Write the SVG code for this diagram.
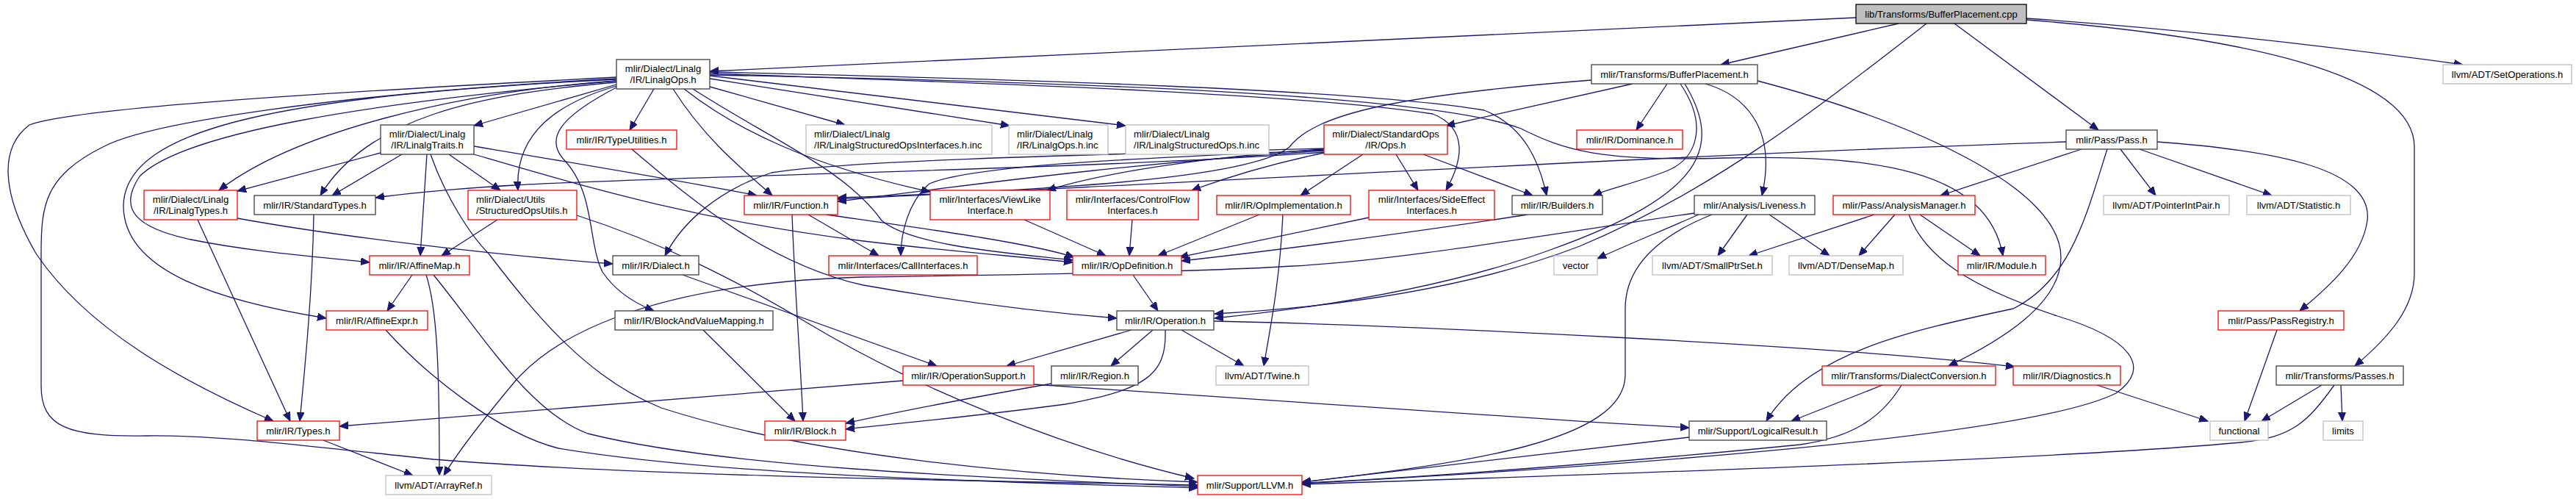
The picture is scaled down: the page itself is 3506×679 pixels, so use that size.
<svg xmlns="http://www.w3.org/2000/svg" width="3506" height="679" viewBox="0 0 3506 679">
<style>
text{font-family:"Liberation Sans",Arial,Helvetica,sans-serif;font-size:13.1px;fill:#000}
.c{text-anchor:middle}
.s{text-anchor:start}
rect{stroke-width:1.3;fill:#fff}
.k{stroke:#404040}
.r{stroke:#ff0000}
.g{stroke:#bfbfbf}
.root{fill:#bfbfbf;stroke:#000}
#edges path{fill:none;stroke:#191970;stroke-width:1.3;marker-end:url(#ah)}
</style>
<defs>
<marker id="ah" markerWidth="13" markerHeight="11" refX="12" refY="5" orient="auto" markerUnits="userSpaceOnUse">
<path d="M0,0 L12,5 L0,10 z" fill="#191970" stroke="#191970" stroke-width="1"/>
</marker>
</defs>
<rect x="0" y="0" width="3506" height="679" style="fill:#fff;stroke:none"/>
<g id="edges">
<path d="M2526,24 L966,97"/>
<path d="M2584,32 L2342,88"/>
<path d="M2622,32 C2470,150 2330,260 2150,335 C1980,400 1780,420 1653,427"/>
<path d="M2660,32 L2856,177"/>
<path d="M2758,25 C2950,38 3150,60 3352,88"/>
<path d="M2758,27 C3050,50 3286,100 3286,200 L3286,372 C3286,420 3250,460 3205,498"/>
<path d="M2222,114 L1968,171"/>
<path d="M2269,114 L2227,177"/>
<path d="M2287,114 C2325,170 2310,215 2270,232 C2230,248 2195,255 2168,266"/>
<path d="M2293,114 C2345,200 2320,265 2110,340 C1960,395 1780,420 1653,433"/>
<path d="M2321,114 C2370,128 2420,170 2398,266"/>
<path d="M2392,110 C2620,170 2805,260 2805,350 C2805,415 2720,465 2652,498"/>
<path d="M2166,109 C1900,130 1790,155 1755,200 C1700,245 1400,260 1140,269"/>
<path d="M839,115 L645,171"/>
<path d="M839,110 C620,125 400,180 298,259"/>
<path d="M839,112 C650,128 500,160 436,266"/>
<path d="M839,117 C760,140 700,180 705,259"/>
<path d="M890,121 L857,177"/>
<path d="M916,121 C960,190 1010,230 1051,266"/>
<path d="M931,121 C1000,175 1100,225 1266,261"/>
<path d="M966,118 L1150,170"/>
<path d="M966,107 L1374,171"/>
<path d="M966,103 L1532,171"/>
<path d="M966,100 C1300,112 1750,125 1950,155 C2000,175 1990,220 1968,259"/>
<path d="M966,98 C1400,108 1850,122 2020,150 C2075,172 2095,220 2105,266"/>
<path d="M966,102 C1500,112 1950,130 2070,175 C2130,205 2180,220 2345,215 C2550,210 2705,230 2726,348"/>
<path d="M943,121 C1050,190 1150,230 1200,300 C1240,335 1380,345 1460,354"/>
<path d="M839,110 C500,140 250,180 190,240 C160,285 185,310 260,326 C350,344 440,350 503,357"/>
<path d="M839,108 C400,130 170,170 168,280 C168,370 300,410 444,433"/>
<path d="M839,119 C760,160 740,190 770,220 C810,265 800,330 820,370 C840,400 870,415 890,423"/>
<path d="M839,105 C400,128 100,148 40,170 C0,200 0,260 49,345 C120,450 250,520 372,573"/>
<path d="M839,107 C450,128 200,168 140,200 C60,240 56,280 56,345 L56,525 C56,580 90,595 200,593 C300,592 400,605 590,625 C900,650 1400,655 1630,660"/>
<path d="M518,208 L323,260"/>
<path d="M547,210 L452,266"/>
<path d="M611,210 L681,259"/>
<path d="M581,210 L572,348"/>
<path d="M645,199 C800,225 950,250 1030,266"/>
<path d="M645,210 C800,255 950,300 1175,328 C1300,343 1400,350 1460,357"/>
<path d="M586,210 C605,265 640,320 665,345 C730,430 800,515 900,555 C1100,620 1400,648 1630,656"/>
<path d="M1802,207 C1500,230 900,240 700,252 C600,258 540,265 511,269"/>
<path d="M1802,205 C1500,225 1300,255 1140,274"/>
<path d="M1802,203 C1650,212 1500,235 1425,259"/>
<path d="M1802,208 C1720,225 1660,245 1622,259"/>
<path d="M1855,210 L1770,266"/>
<path d="M1900,210 L1930,259"/>
<path d="M1937,210 L2086,266"/>
<path d="M1802,202 C1500,210 1150,218 1050,235 C980,258 930,300 905,348"/>
<path d="M1802,204 C1600,214 1330,222 1265,250 C1235,275 1226,320 1226,348"/>
<path d="M2812,193 C2300,210 1700,245 1140,271"/>
<path d="M2833,203 L2641,266"/>
<path d="M2868,203 C2840,290 2820,380 2740,420 C2600,450 2460,480 2404,573"/>
<path d="M2886,203 L2934,266"/>
<path d="M2912,203 L3092,266"/>
<path d="M2936,193 C3100,205 3230,230 3222,300 C3215,350 3170,390 3130,423"/>
<path d="M323,297 C450,320 650,345 834,359"/>
<path d="M269,299 L395,573"/>
<path d="M427,292 C425,400 415,500 408,573"/>
<path d="M677,299 L601,348"/>
<path d="M785,293 C900,330 1000,380 1100,440 C1250,530 1450,610 1625,651"/>
<path d="M860,203 C950,280 1050,360 1175,388 C1300,410 1420,425 1520,433"/>
<path d="M1100,292 L1196,348"/>
<path d="M1078,292 C1082,400 1090,500 1093,573"/>
<path d="M1125,292 C1250,310 1400,330 1462,350"/>
<path d="M1394,299 L1505,348"/>
<path d="M1541,299 L1537,348"/>
<path d="M1714,292 L1576,348"/>
<path d="M1746,292 C1742,380 1730,440 1720,498"/>
<path d="M1863,296 C1750,320 1680,335 1605,350"/>
<path d="M2079,292 C1900,320 1700,345 1608,355"/>
<path d="M2312,292 C2260,315 2210,335 2174,352"/>
<path d="M2378,292 L2338,348"/>
<path d="M2408,292 L2490,348"/>
<path d="M2306,290 C2100,320 1900,355 1760,362 C1600,372 1300,375 1175,377 C900,385 760,450 700,520 C650,580 620,620 604,647"/>
<path d="M2330,292 C2260,320 2212,360 2212,420 L2212,510 C2212,600 2000,630 1772,656"/>
<path d="M2551,292 L2380,348"/>
<path d="M2579,292 L2530,348"/>
<path d="M2613,292 L2695,348"/>
<path d="M2598,292 C2620,350 2680,390 2800,430 C2900,460 2930,500 2880,535 C2750,600 2100,640 1772,658"/>
<path d="M561,374 L527,423"/>
<path d="M580,374 C595,420 598,500 598,647"/>
<path d="M590,374 C660,460 720,560 800,590 C1000,640 1400,652 1630,662"/>
<path d="M929,374 L1275,498"/>
<path d="M1542,374 L1576,423"/>
<path d="M525,449 C580,510 680,590 760,610 C1000,650 1400,656 1630,664"/>
<path d="M957,449 L1082,573"/>
<path d="M1540,449 L1370,498"/>
<path d="M1569,449 L1512,498"/>
<path d="M1586,449 C1588,510 1560,530 1450,550 C1300,570 1200,578 1151,584"/>
<path d="M1608,449 L1693,498"/>
<path d="M1652,437 C1900,442 2500,470 2742,499"/>
<path d="M3099,449 L3055,573"/>
<path d="M1229,518 L462,580"/>
<path d="M1407,523 C1700,545 2000,565 2299,582"/>
<path d="M1431,522 C1300,545 1200,565 1151,576"/>
<path d="M2562,524 L2438,573"/>
<path d="M2588,524 C2560,570 2520,595 2450,605 C2200,630 1900,652 1772,657"/>
<path d="M2854,524 L3005,573"/>
<path d="M3160,524 L3078,573"/>
<path d="M3186,524 L3188,573"/>
<path d="M3177,524 C3140,575 3120,595 3050,602 C2800,625 2200,645 1772,659"/>
<path d="M440,599 L562,647"/>
<path d="M2299,595 L1772,656"/>
</g>
<g id="n_root"><rect class="root" x="2526" y="6" width="232" height="26"/><text class="c" x="2642" y="23.5">lib/Transforms/BufferPlacement.cpp</text></g>
<g id="n_linalgops"><rect class="k" x="839" y="81" width="127" height="40"/><text class="c" x="902.5" y="98">mlir/Dialect/Linalg</text><text class="c" x="902.5" y="113">/IR/LinalgOps.h</text></g>
<g id="n_bufferplacement_h"><rect class="k" x="2166" y="88" width="226" height="26"/><text class="c" x="2279" y="105.5">mlir/Transforms/BufferPlacement.h</text></g>
<g id="n_setoperations"><rect class="g" x="3325" y="88" width="175" height="26"/><text class="c" x="3412.5" y="105.5">llvm/ADT/SetOperations.h</text></g>
<g id="n_linalgtraits"><rect class="k" x="518" y="170" width="127" height="40"/><text class="c" x="581.5" y="187">mlir/Dialect/Linalg</text><text class="c" x="581.5" y="202">/IR/LinalgTraits.h</text></g>
<g id="n_typeutilities"><rect class="r" x="771" y="177" width="150" height="26"/><text class="c" x="846" y="194.5">mlir/IR/TypeUtilities.h</text></g>
<g id="n_soi_inc"><rect class="g" x="1097" y="170" width="253" height="40"/><text class="s" x="1108" y="187">mlir/Dialect/Linalg</text><text class="s" x="1108" y="202">/IR/LinalgStructuredOpsInterfaces.h.inc</text></g>
<g id="n_linalgops_inc"><rect class="g" x="1373" y="170" width="135" height="40"/><text class="s" x="1384" y="187">mlir/Dialect/Linalg</text><text class="s" x="1384" y="202">/IR/LinalgOps.h.inc</text></g>
<g id="n_lso_inc"><rect class="g" x="1532" y="170" width="195" height="40"/><text class="s" x="1543" y="187">mlir/Dialect/Linalg</text><text class="s" x="1543" y="202">/IR/LinalgStructuredOps.h.inc</text></g>
<g id="n_stdops"><rect class="r" x="1802" y="170" width="168" height="40"/><text class="c" x="1886" y="187">mlir/Dialect/StandardOps</text><text class="c" x="1886" y="202">/IR/Ops.h</text></g>
<g id="n_dominance"><rect class="r" x="2146" y="177" width="144" height="26"/><text class="c" x="2218" y="194.5">mlir/IR/Dominance.h</text></g>
<g id="n_pass"><rect class="k" x="2812" y="177" width="124" height="26"/><text class="c" x="2874" y="194.5">mlir/Pass/Pass.h</text></g>
<g id="n_linalgtypes"><rect class="r" x="196" y="259" width="127" height="40"/><text class="c" x="259.5" y="276">mlir/Dialect/Linalg</text><text class="c" x="259.5" y="291">/IR/LinalgTypes.h</text></g>
<g id="n_standardtypes"><rect class="k" x="346" y="266" width="165" height="26"/><text class="c" x="428.5" y="283.5">mlir/IR/StandardTypes.h</text></g>
<g id="n_structuredopsutils"><rect class="r" x="637" y="259" width="148" height="40"/><text class="s" x="648" y="276">mlir/Dialect/Utils</text><text class="s" x="648" y="291">/StructuredOpsUtils.h</text></g>
<g id="n_function"><rect class="r" x="1013" y="266" width="127" height="26"/><text class="c" x="1076.5" y="283.5">mlir/IR/Function.h</text></g>
<g id="n_viewlike"><rect class="r" x="1266" y="259" width="163" height="40"/><text class="c" x="1347.5" y="276">mlir/Interfaces/ViewLike</text><text class="c" x="1347.5" y="291">Interface.h</text></g>
<g id="n_controlflow"><rect class="r" x="1452" y="259" width="179" height="40"/><text class="c" x="1541.5" y="276">mlir/Interfaces/ControlFlow</text><text class="c" x="1541.5" y="291">Interfaces.h</text></g>
<g id="n_opimplementation"><rect class="r" x="1656" y="266" width="182" height="26"/><text class="c" x="1747" y="283.5">mlir/IR/OpImplementation.h</text></g>
<g id="n_sideeffect"><rect class="r" x="1863" y="259" width="171" height="40"/><text class="c" x="1948.5" y="276">mlir/Interfaces/SideEffect</text><text class="c" x="1948.5" y="291">Interfaces.h</text></g>
<g id="n_builders"><rect class="k" x="2058" y="266" width="123" height="26"/><text class="c" x="2119.5" y="283.5">mlir/IR/Builders.h</text></g>
<g id="n_liveness"><rect class="k" x="2306" y="266" width="164" height="26"/><text class="c" x="2388" y="283.5">mlir/Analysis/Liveness.h</text></g>
<g id="n_analysismanager"><rect class="r" x="2495" y="266" width="193" height="26"/><text class="c" x="2591.5" y="283.5">mlir/Pass/AnalysisManager.h</text></g>
<g id="n_pointerintpair"><rect class="g" x="2863" y="266" width="171" height="26"/><text class="c" x="2948.5" y="283.5">llvm/ADT/PointerIntPair.h</text></g>
<g id="n_statistic"><rect class="g" x="3058" y="266" width="141" height="26"/><text class="c" x="3128.5" y="283.5">llvm/ADT/Statistic.h</text></g>
<g id="n_affinemap"><rect class="r" x="503" y="348" width="136" height="26"/><text class="c" x="571" y="365.5">mlir/IR/AffineMap.h</text></g>
<g id="n_dialect"><rect class="k" x="834" y="348" width="117" height="26"/><text class="c" x="892.5" y="365.5">mlir/IR/Dialect.h</text></g>
<g id="n_callinterfaces"><rect class="r" x="1128" y="348" width="202" height="26"/><text class="c" x="1229" y="365.5">mlir/Interfaces/CallInterfaces.h</text></g>
<g id="n_opdefinition"><rect class="r" x="1460" y="348" width="148" height="26"/><text class="c" x="1534" y="365.5">mlir/IR/OpDefinition.h</text></g>
<g id="n_vector"><rect class="g" x="2115" y="348" width="59" height="26"/><text class="c" x="2144.5" y="365.5">vector</text></g>
<g id="n_smallptrset"><rect class="g" x="2249" y="348" width="163" height="26"/><text class="c" x="2330.5" y="365.5">llvm/ADT/SmallPtrSet.h</text></g>
<g id="n_densemap"><rect class="g" x="2435" y="348" width="155" height="26"/><text class="c" x="2512.5" y="365.5">llvm/ADT/DenseMap.h</text></g>
<g id="n_module"><rect class="r" x="2665" y="348" width="119" height="26"/><text class="c" x="2724.5" y="365.5">mlir/IR/Module.h</text></g>
<g id="n_affineexpr"><rect class="r" x="444" y="423" width="138" height="26"/><text class="c" x="513" y="440.5">mlir/IR/AffineExpr.h</text></g>
<g id="n_blockandvaluemapping"><rect class="k" x="837" y="423" width="215" height="26"/><text class="c" x="944.5" y="440.5">mlir/IR/BlockAndValueMapping.h</text></g>
<g id="n_operation"><rect class="k" x="1520" y="423" width="132" height="26"/><text class="c" x="1586" y="440.5">mlir/IR/Operation.h</text></g>
<g id="n_passregistry"><rect class="r" x="3019" y="423" width="171" height="26"/><text class="c" x="3104.5" y="440.5">mlir/Pass/PassRegistry.h</text></g>
<g id="n_operationsupport"><rect class="r" x="1229" y="498" width="178" height="26"/><text class="c" x="1318" y="515.5">mlir/IR/OperationSupport.h</text></g>
<g id="n_region"><rect class="k" x="1431" y="498" width="118" height="26"/><text class="c" x="1490" y="515.5">mlir/IR/Region.h</text></g>
<g id="n_twine"><rect class="g" x="1655" y="498" width="126" height="26"/><text class="c" x="1718" y="515.5">llvm/ADT/Twine.h</text></g>
<g id="n_dialectconversion"><rect class="r" x="2480" y="498" width="236" height="26"/><text class="c" x="2598" y="515.5">mlir/Transforms/DialectConversion.h</text></g>
<g id="n_diagnostics"><rect class="r" x="2740" y="498" width="146" height="26"/><text class="c" x="2813" y="515.5">mlir/IR/Diagnostics.h</text></g>
<g id="n_passes"><rect class="k" x="3098" y="498" width="173" height="26"/><text class="c" x="3184.5" y="515.5">mlir/Transforms/Passes.h</text></g>
<g id="n_types"><rect class="r" x="350" y="573" width="112" height="26"/><text class="c" x="406" y="590.5">mlir/IR/Types.h</text></g>
<g id="n_block"><rect class="r" x="1041" y="573" width="110" height="26"/><text class="c" x="1096" y="590.5">mlir/IR/Block.h</text></g>
<g id="n_logicalresult"><rect class="k" x="2299" y="573" width="187" height="26"/><text class="c" x="2392.5" y="590.5">mlir/Support/LogicalResult.h</text></g>
<g id="n_functional"><rect class="g" x="3008" y="573" width="79" height="26"/><text class="c" x="3047.5" y="590.5">functional</text></g>
<g id="n_limits"><rect class="g" x="3162" y="573" width="54" height="26"/><text class="c" x="3189" y="590.5">limits</text></g>
<g id="n_arrayref"><rect class="g" x="525" y="647" width="144" height="26"/><text class="c" x="597" y="664.5">llvm/ADT/ArrayRef.h</text></g>
<g id="n_llvm"><rect class="r" x="1630" y="647" width="142" height="26"/><text class="c" x="1701" y="664.5">mlir/Support/LLVM.h</text></g>
</svg>
